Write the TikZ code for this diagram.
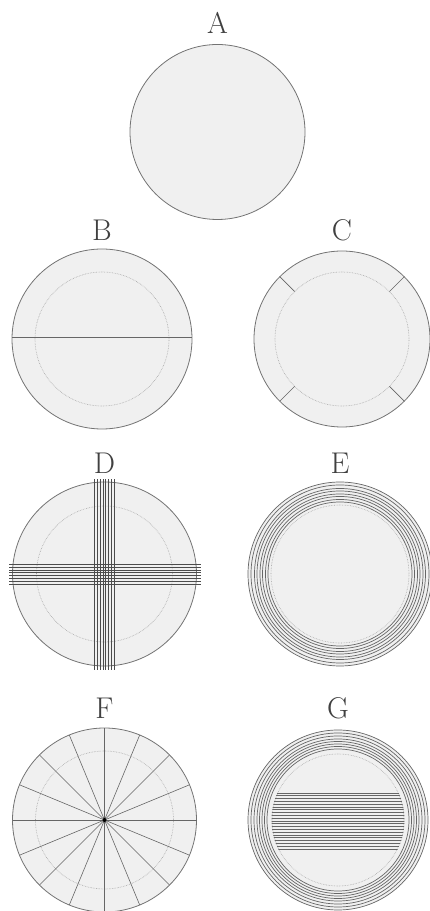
\documentclass[tikz,border=0pt]{standalone}
\usepackage{tikz}

\begin{document}
\begin{tikzpicture}[x=1pt, y=1pt,
    % --- styles ---
    disk/.style={draw=black!55, fill=black!6, line width=0.8pt},
    inner/.style={draw=black!35, densely dotted, line width=0.6pt},
    strand/.style={draw=black!70, line width=0.6pt},
    ring/.style={draw=black!60, line width=0.7pt},
    letter/.style={font=\fontsize{30}{34}\selectfont, text=black!75}
]
    \useasboundingbox (0,0) rectangle (429,911);

    % ===== A : plain disk =====
    \begin{scope}[shift={(217.5,779)}]
        \node[letter] (labA) at (0,109) {A};
        \draw[disk] (0,0) circle (87.5);
    \end{scope}

    % ===== B : one chord =====
    \begin{scope}[shift={(102,572)}]
        \node[letter] (labB) at (0,109) {B};
        \draw[disk] (0,0) circle (90);
        \draw[inner] (0,0) circle (67);
        \draw[ring] (-90,2) -- (90,2);
    \end{scope}

    % ===== C : four ticks in the rim =====
    \begin{scope}[shift={(342,572)}]
        \node[letter] (labC) at (0,109) {C};
        \draw[disk] (0,0) circle (88);
        \draw[inner] (0,0) circle (67);
        \foreach \a in {45,135,225,315}
            \draw[ring] (\a:67) -- (\a:88);
    \end{scope}

    % ===== D : crossed bands =====
    \begin{scope}[shift={(104.5,337)}]
        \node[letter] (labD) at (0,111) {D};
        \draw[disk] (0,0) circle (92);
        \draw[inner] (0,0) circle (68);
        \foreach \k in {0,...,7} {
            \draw[strand] (-10+\k*2.8,-96) -- (-10+\k*2.8,95);
            \draw[strand] (-95.5,-10+\k*2.8) -- (96.5,-10+\k*2.8);
        }
    \end{scope}

    % ===== E : rings =====
    \begin{scope}[shift={(340,337)}]
        \node[letter] (labE) at (0,111) {E};
        \fill[black!6] (0,0) circle (92);
        \draw[inner] (0,0) circle (69);
        \foreach \r in {72,74.5,77.5,80,83,85.5,89,92}
            \draw[ring] (0,0) circle (\r);
    \end{scope}

    % ===== F : sixteen spokes =====
    \begin{scope}[shift={(104.5,91)}]
        \node[letter] (labF) at (0,112) {F};
        \draw[disk] (0,0) circle (92);
        \draw[inner] (0,0) circle (69);
        \foreach \a in {0,22.5,...,337.5}
            \draw[strand, draw=black!60] (0,0) -- (\a:92);
        \fill[black] (0,0) circle (2);
    \end{scope}

    % ===== G : rings and stripes =====
    \begin{scope}[shift={(338,91)}]
        \node[letter] (labG) at (0,112) {G};
        \fill[black!6] (0,0) circle (90);
        \draw[inner] (0,0) circle (66);
        \foreach \r in {71,73.5,76,78.5,81,84,87,90}
            \draw[ring] (0,0) circle (\r);
        \begin{scope}
            \clip (0,0) circle (66.5);
            \foreach \k in {0,...,20}
                \draw[ring] (-70,-29+\k*2.8) -- (70,-29+\k*2.8);
        \end{scope}
    \end{scope}

\end{tikzpicture}
\end{document}
